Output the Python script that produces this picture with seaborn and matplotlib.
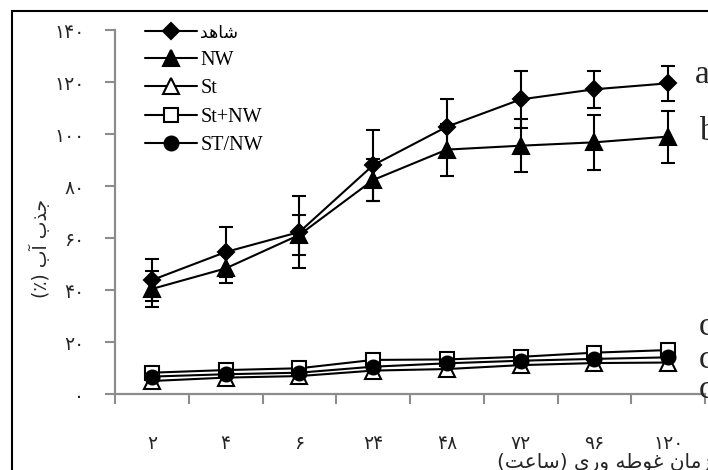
import numpy as np
import pandas as pd
import matplotlib
matplotlib.use("Agg")
import matplotlib.pyplot as plt
import seaborn as sns
from matplotlib.patches import Rectangle

# data
hours = ["۲", "۴", "۶", "۲۴", "۴۸", "۷۲", "۹۶", "۱۲۰"]
yticks = [0, 20, 40, 60, 80, 100, 120, 140]
ytick_labels = ["۰", "۲۰", "۴۰", "۶۰", "۸۰", "۱۰۰", "۱۲۰", "۱۴۰"]

shahed = [43.8, 54.6, 62.3, 88.0, 102.8, 113.3, 117.2, 119.5]
shahed_err = [8.0, 9.5, 14.0, 13.7, 10.5, 11.0, 7.2, 6.8]
nw = [40.4, 48.3, 61.2, 82.3, 94.0, 95.5, 96.8, 99.0]
nw_err = [7.0, 5.5, 7.7, 8.0, 10.0, 10.3, 10.5, 10.0]
st = [5.0, 6.3, 6.9, 9.0, 9.6, 11.1, 11.9, 12.1]
st_nw = [8.2, 9.2, 9.9, 13.1, 13.3, 14.3, 15.9, 16.9]
st_slash_nw = [6.7, 7.6, 8.2, 10.5, 11.8, 12.8, 13.5, 14.1]

letters_top = ["a", "b"]
letters_low = ["c", "c", "c"]

# minimal Persian shaping (matplotlib has no complex text layout)
FORMS = {
    "ا": ("\uFE8D", "\uFE8E", None, None),
    "آ": ("\uFE81", "\uFE82", None, None),
    "ب": ("\uFE8F", "\uFE90", "\uFE91", "\uFE92"),
    "ت": ("\uFE95", "\uFE96", "\uFE97", "\uFE98"),
    "ج": ("\uFE9D", "\uFE9E", "\uFE9F", "\uFEA0"),
    "د": ("\uFEA9", "\uFEAA", None, None),
    "ذ": ("\uFEAB", "\uFEAC", None, None),
    "ر": ("\uFEAD", "\uFEAE", None, None),
    "ز": ("\uFEAF", "\uFEB0", None, None),
    "س": ("\uFEB1", "\uFEB2", "\uFEB3", "\uFEB4"),
    "ش": ("\uFEB5", "\uFEB6", "\uFEB7", "\uFEB8"),
    "ط": ("\uFEC1", "\uFEC2", "\uFEC3", "\uFEC4"),
    "ع": ("\uFEC9", "\uFECA", "\uFECB", "\uFECC"),
    "غ": ("\uFECD", "\uFECE", "\uFECF", "\uFED0"),
    "م": ("\uFEE1", "\uFEE2", "\uFEE3", "\uFEE4"),
    "ن": ("\uFEE5", "\uFEE6", "\uFEE7", "\uFEE8"),
    "ه": ("\uFEE9", "\uFEEA", "\uFEEB", "\uFEEC"),
    "و": ("\uFEED", "\uFEEE", None, None),
    "ی": ("\uFBFC", "\uFBFD", "\uFBFE", "\uFBFF"),
}


def fa(text):
    out = []
    for i, ch in enumerate(text):
        if ch not in FORMS:
            out.append(ch)
            continue
        prev = text[i - 1] if i > 0 else ""
        nxt = text[i + 1] if i + 1 < len(text) else ""
        join_prev = prev in FORMS and FORMS[prev][2] is not None
        join_next = nxt in FORMS and FORMS[ch][2] is not None
        iso, fin, ini, med = FORMS[ch]
        if join_prev and join_next:
            out.append(med)
        elif join_prev:
            out.append(fin)
        elif join_next:
            out.append(ini)
        else:
            out.append(iso)
    vis = "".join(reversed(out))
    return vis.translate(str.maketrans("()", ")("))


sns.set_style("white")
plt.rcParams["font.family"] = ["Liberation Serif", "DejaVu Sans"]

W, H = 708, 470
fig = plt.figure(figsize=(W / 100, H / 100), dpi=100)
ax = fig.add_axes([115 / W, (H - 394) / H, (705 - 115) / W, 364 / H])

x = np.arange(len(hours))
series = [
    (fa("شاهد"), shahed, "D", "black", 8.5),
    ("NW", nw, "^", "black", 11),
    ("St", st, "^", "white", 11),
    ("St+NW", st_nw, "s", "white", 10),
    ("ST/NW", st_slash_nw, "o", "black", 10),
]
for name, vals, mk, face, ms in series:
    sns.lineplot(x=x, y=vals, ax=ax, color="black", lw=1.5, marker=mk,
                 markersize=ms, markerfacecolor=face, markeredgecolor="black",
                 markeredgewidth=1.5, label=name, errorbar=None)

for vals, err in [(shahed, shahed_err), (nw, nw_err)]:
    ax.errorbar(x, vals, yerr=err, fmt="none", ecolor="black",
                elinewidth=1.5, capsize=5, capthick=1.5)

ax.set_xlim(-0.5, len(hours) - 0.5)
ax.set_ylim(0, 140)
sns.despine(ax=ax)
for side in ["left", "bottom"]:
    ax.spines[side].set_color("#8c8c8c")
    ax.spines[side].set_linewidth(1.6)

ax.set_yticks(yticks)
ax.set_yticklabels(ytick_labels, family="DejaVu Sans", fontsize=13.5)
ax.tick_params(axis="y", direction="out", length=7, width=1.5,
               color="#8c8c8c", pad=15, left=True)
ax.set_xticks(x)
ax.set_xticklabels(hours, family="DejaVu Sans", fontsize=13.5)
ax.set_xticks(np.arange(len(hours) + 1) - 0.5, minor=True)
ax.tick_params(axis="x", which="major", length=0, pad=29)
ax.tick_params(axis="x", which="minor", direction="out", length=7,
               width=1.5, color="#8c8c8c", bottom=True)
ax.set_xlabel("")
ax.set_ylabel("")

leg = ax.legend(loc="upper left", bbox_to_anchor=(145 / W, 1 - 24 / H),
                bbox_transform=fig.transFigure, frameon=False, fontsize=14.5,
                handlelength=2.6, handletextpad=0.15, labelspacing=0.45,
                borderpad=0, borderaxespad=0)
leg.get_texts()[0].set_fontsize(12.5)
for t in leg.get_texts():
    t.set_color("black")

# significance letters (cut at the right edge as in the original)
fig.text(695 / W, 1 - 83 / H, letters_top[0], fontsize=24, va="baseline")
fig.text(700 / W, 1 - 140 / H, letters_top[1], fontsize=24, va="baseline")
for yb, lt in zip([335, 368, 398], letters_low):
    fig.text(699 / W, 1 - yb / H, lt, fontsize=24, va="baseline")

fig.text(40 / W, 1 - 248 / H, fa("جذب آب (٪)"), rotation=90, ha="center",
         va="center", family="DejaVu Sans", fontsize=13.5)
fig.text(497 / W, 1 - 468 / H, fa("زمان غوطه وری (ساعت)"), ha="left",
         va="baseline", family="DejaVu Sans", fontsize=14.5)

fig.add_artist(Rectangle((12 / W, -0.1), 1.2, 1 - 11 / H + 0.1,
                         transform=fig.transFigure, fill=False,
                         edgecolor="black", lw=1.5, clip_on=False))

fig.savefig("out.png", dpi=100)
